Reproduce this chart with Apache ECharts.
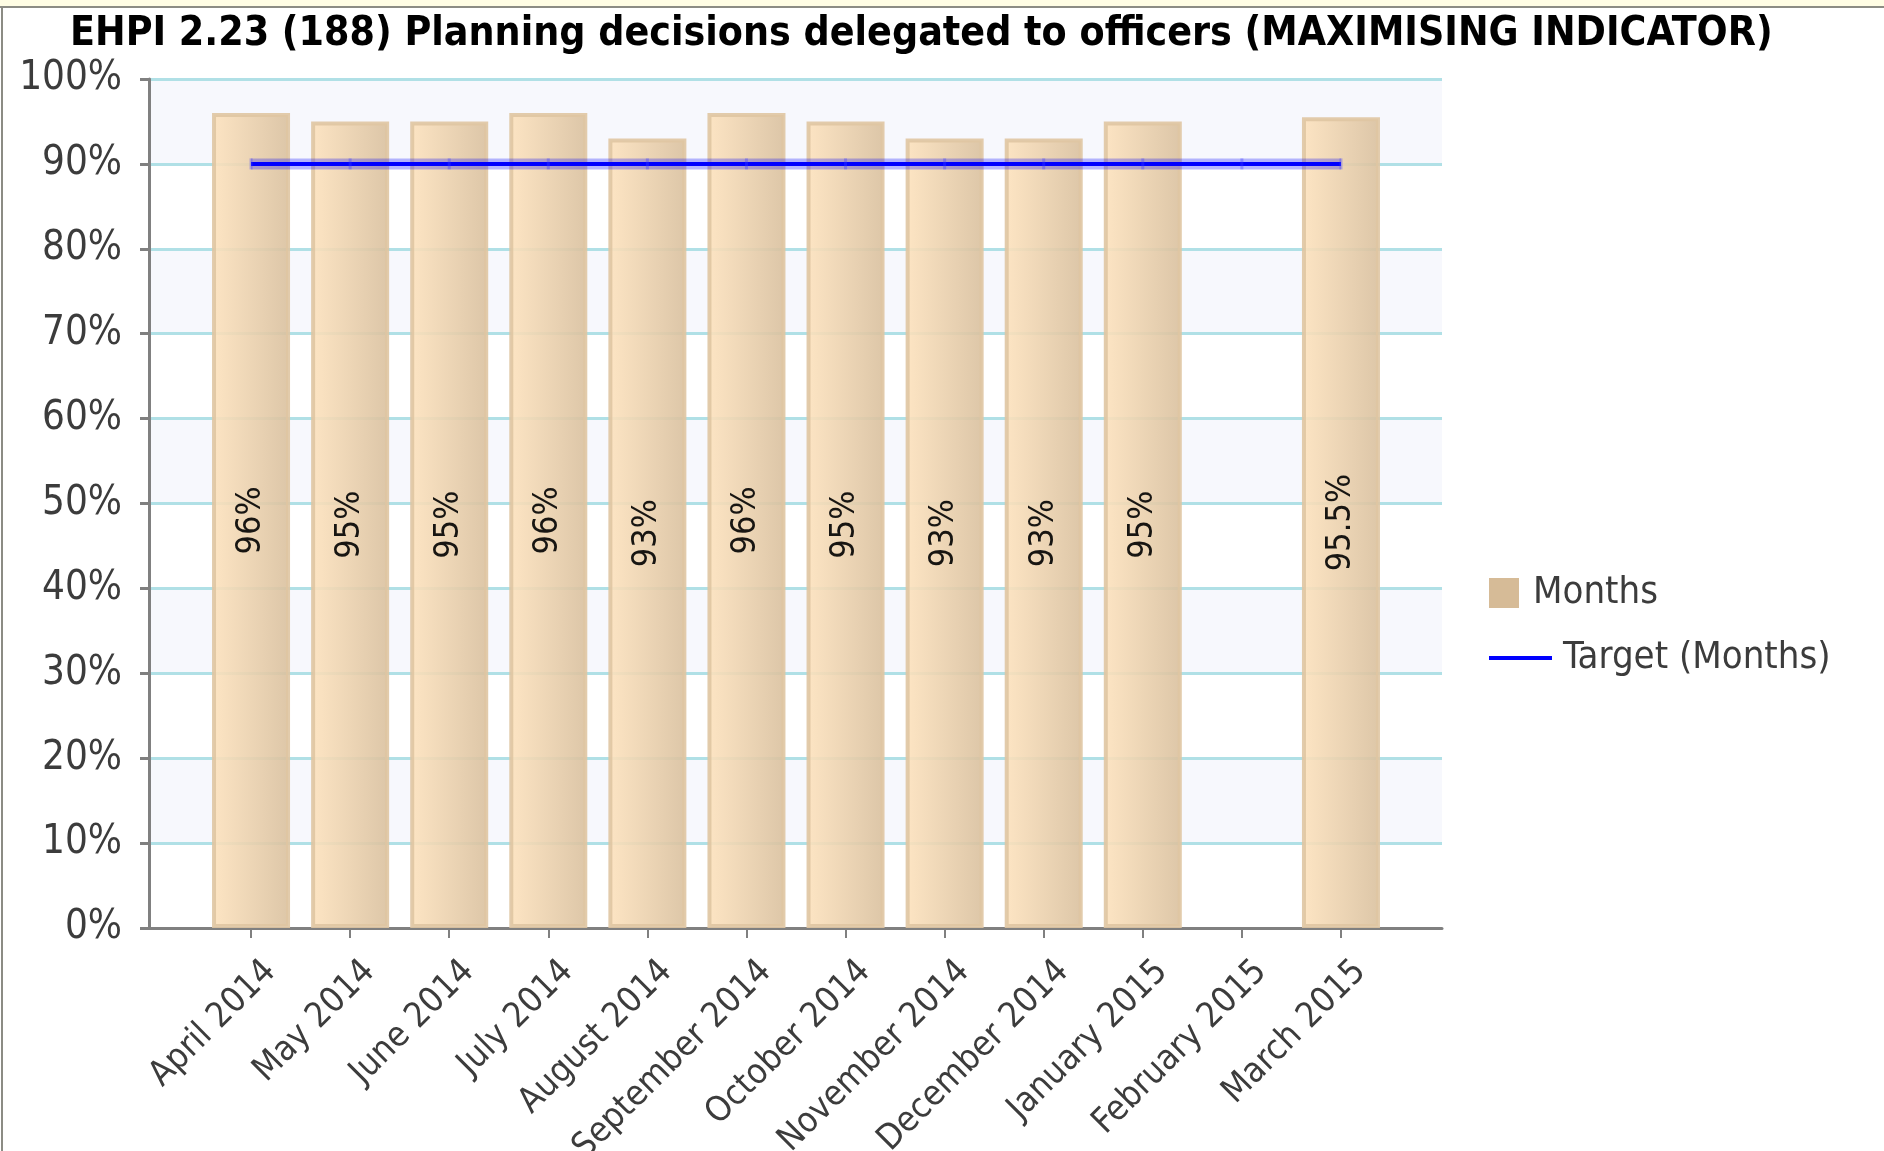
<!DOCTYPE html>
<html>
<head>
<meta charset="utf-8">
<title>EHPI 2.23 (188)</title>
<script src="https://cdn.jsdelivr.net/npm/echarts@6/dist/echarts.min.js"></script>
<style>
  html, body { margin: 0; padding: 0; background: #fff; }
  #chart { width: 1884px; height: 1151px; }
</style>
</head>
<body>
<div id="chart"></div>
<script>
// chart data
const months = ['April 2014', 'May 2014', 'June 2014', 'July 2014', 'August 2014',
  'September 2014', 'October 2014', 'November 2014', 'December 2014',
  'January 2015', 'February 2015', 'March 2015'];
const actual = [96, 95, 95, 96, 93, 96, 95, 93, 93, 95, null, 95.5];
const target = [90, 90, 90, 90, 90, 90, 90, 90, 90, 90, 90, 90];

const FONT = '"DejaVu Sans Condensed", "DejaVu Sans", sans-serif';
const GRAY = '#808080';
const TEXT = '#3c3c3c';

const chart = echarts.init(document.getElementById('chart'));

const option = {
  backgroundColor: '#ffffff',
  animation: false,
  title: {
    text: 'EHPI 2.23 (188) Planning decisions delegated to officers (MAXIMISING INDICATOR)',
    left: 65,
    top: 9,
    textStyle: { fontFamily: FONT, fontSize: 40.7, fontWeight: 'bold', color: '#000' }
  },
  graphic: [
    { type: 'rect', shape: { x: 0, y: 0, width: 1884, height: 6 }, style: { fill: '#fffde4' } },
    { type: 'rect', shape: { x: 0, y: 6, width: 1884, height: 2 }, style: { fill: '#8c8c84' } },
    { type: 'rect', shape: { x: 1, y: 6, width: 2, height: 1145 }, style: { fill: '#8c8c84' } }
  ],
  legend: [
    {
      data: [{ name: 'Months', icon: 'rect', itemStyle: { color: '#d2b48c', borderWidth: 0 } }],
      orient: 'vertical',
      left: 1484,
      top: 568,
      itemWidth: 30,
      itemHeight: 30,
      selectedMode: false,
      textStyle: { fontFamily: FONT, fontSize: 38, color: TEXT, lineHeight: 40, padding: [0, 0, 0, 9] }
    },
    {
      data: [{ name: 'Target (Months)', icon: 'rect', itemStyle: { color: '#0000ff', borderWidth: 0 } }],
      orient: 'vertical',
      left: 1484,
      top: 633,
      itemWidth: 63,
      itemHeight: 4,
      selectedMode: false,
      textStyle: { fontFamily: FONT, fontSize: 38, color: TEXT, lineHeight: 40, padding: [0, 0, 0, 6] }
    }
  ],
  grid: [
    // background plot area with bands
    { left: 149, right: 442, top: 79, bottom: 223, outerBoundsMode: 'none', containLabel: false },
    // category area, inset like the original
    { left: 201.5, right: 493.5, top: 79, bottom: 223, outerBoundsMode: 'none', containLabel: false }
  ],
  xAxis: [
    {
      gridIndex: 0,
      type: 'value',
      min: 0,
      max: 1,
      offset: 4,
      axisLine: { show: true, lineStyle: { color: GRAY, width: 3 } },
      axisTick: { show: false },
      axisLabel: { show: false },
      splitLine: { show: false }
    },
    {
      gridIndex: 1,
      type: 'category',
      data: months,
      offset: 4,
      axisLine: { show: false },
      axisTick: { show: true, alignWithLabel: true, length: 10, lineStyle: { color: GRAY, width: 2 } },
      axisLabel: {
        interval: 0,
        rotate: 45,
        margin: 15,
        align: 'right',
        verticalAlign: 'top',
        padding: [10, 0, 0, 0],
        fontFamily: FONT,
        fontSize: 35,
        color: TEXT
      }
    }
  ],
  yAxis: [
    {
      gridIndex: 0,
      type: 'value',
      min: 0,
      max: 100,
      interval: 10,
      axisLine: { show: true, lineStyle: { color: GRAY, width: 3 } },
      axisTick: { show: true, length: 9, lineStyle: { color: GRAY, width: 3 } },
      axisLabel: { formatter: '{value}%', margin: 27, fontFamily: FONT, fontSize: 40, color: TEXT },
      splitLine: {
        show: true,
        lineStyle: {
          width: 3,
          color: ['#eeeeee', '#b0e0e6', '#b0e0e6', '#b0e0e6', '#b0e0e6', '#b0e0e6',
            '#b0e0e6', '#b0e0e6', '#b0e0e6', '#b0e0e6', '#b0e0e6']
        }
      },
      splitArea: { show: true, areaStyle: { color: ['#ffffff', '#f7f8fd'] } }
    },
    { gridIndex: 1, type: 'value', min: 0, max: 100, show: false }
  ],
  series: [
    {
      name: 'Months',
      type: 'bar',
      xAxisIndex: 1,
      yAxisIndex: 1,
      data: actual,
      barWidth: 78,
      itemStyle: {
        opacity: 0.9,
        borderWidth: 4,
        borderColor: '#dfc5a2',
        color: new echarts.graphic.LinearGradient(0, 0, 1, 0, [
          { offset: 0, color: '#fde2bd' },
          { offset: 1, color: '#d9c09e' }
        ])
      },
      label: {
        show: true,
        position: 'inside',
        rotate: 90,
        formatter: (p) => p.value + '%',
        fontFamily: FONT,
        fontSize: 34,
        color: '#000'
      }
    },
    {
      name: 'Target halo',
      type: 'line',
      xAxisIndex: 1,
      yAxisIndex: 1,
      data: target,
      silent: true,
      symbol: 'rect',
      symbolSize: [3, 11],
      itemStyle: { color: 'rgba(60,60,255,0.35)' },
      lineStyle: { color: 'rgba(0,0,255,0.28)', width: 11 }
    },
    {
      name: 'Target (Months)',
      type: 'line',
      xAxisIndex: 1,
      yAxisIndex: 1,
      data: target,
      showSymbol: false,
      symbol: 'none',
      lineStyle: { color: '#0000ff', width: 4 }
    }
  ]
};

chart.setOption(option);
</script>
</body>
</html>
